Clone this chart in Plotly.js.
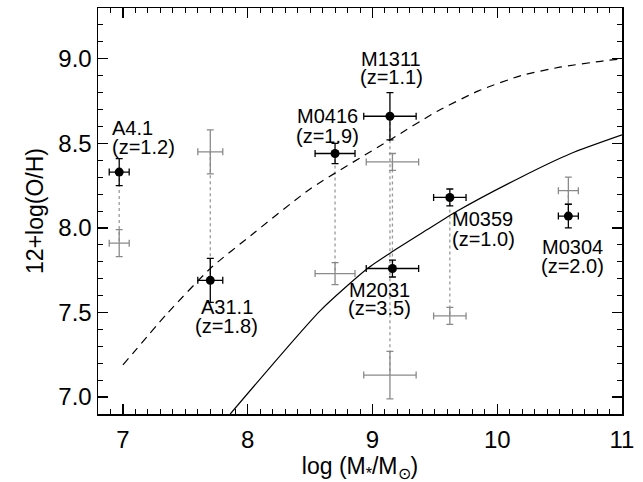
<!DOCTYPE html>
<html><head><meta charset="utf-8">
<script src="https://cdn.plot.ly/plotly-3.0.1.min.js"></script>
<style>html,body{margin:0;padding:0;background:#fff}#chart{width:643px;height:482px}</style>
</head><body><div id="chart"></div>
<script>
// ---- data ----
const galaxyNames = ['A4.1', 'A31.1', 'M0416', 'M1311', 'M2031', 'M0359', 'M0304'];
const redshifts   = ['1.2', '1.8', '1.9', '1.1', '3.5', '1.0', '2.0'];
const logMass     = [6.97, 7.70, 8.70, 9.14, 9.16, 9.62, 10.57];
const logMassErr  = [0.08, 0.10, 0.16, 0.21, 0.21, 0.13, 0.08];
const ohBlack     = [8.33, 7.69, 8.44, 8.66, 7.76, 8.18, 8.07];
const ohBlackErr  = [0.08, 0.13, 0.06, 0.14, 0.05, 0.05, 0.07];
const ohGray      = [7.91, 8.45, 7.73, 7.13, 8.39, 7.48, 8.22];
const ohGrayErr   = [0.08, 0.13, 0.065, 0.14, 0.05, 0.05, 0.08];

const dashedX = [7.00, 7.35, 7.70, 8.05, 8.50, 9.14, 9.52, 9.85, 10.19, 10.50, 10.83, 11.00];
const dashedY = [7.19, 7.49, 7.76, 7.97, 8.23, 8.52, 8.69, 8.81, 8.90, 8.95, 8.985, 9.00];
const solidX  = [7.86, 8.58, 8.96, 9.16, 9.44, 9.68, 10.19, 10.59, 11.00];
const solidY  = [6.90, 7.51, 7.76, 7.86, 7.99, 8.10, 8.30, 8.44, 8.55];

const xTickVals = [7, 8, 9, 10, 11];
const yTickVals = [7.0, 7.5, 8.0, 8.5, 9.0];

// ---- label placement (layout only) ----
const labelLayout = [
  {x: 6.898, anchor: 'left',   yName: 8.588, yZ: 8.476},
  {x: 7.83,  anchor: 'center', yName: 7.530, yZ: 7.418},
  {x: 8.64,  anchor: 'center', yName: 8.661, yZ: 8.545},
  {x: 9.15,  anchor: 'center', yName: 8.997, yZ: 8.890},
  {x: 9.06,  anchor: 'center', yName: 7.635, yZ: 7.524},
  {x: 9.62,  anchor: 'left',   yName: 8.050, yZ: 7.932},
  {x: 10.607,anchor: 'center', yName: 7.889, yZ: 7.776}
];

const FONT = 'Liberation Sans, Arial, Helvetica, sans-serif';

// dotted connectors between black and gray measurements
const connX = [], connY = [];
logMass.forEach((m, i) => { connX.push(m, m, null); connY.push(ohBlack[i], ohGray[i], null); });

const traces = [
  {x: connX, y: connY, mode: 'lines', hoverinfo: 'skip',
   line: {color: '#9a9a9a', width: 1.3, dash: 'dot'}},
  {x: dashedX, y: dashedY, mode: 'lines', line: {color: '#000', width: 1.2, dash: '8px,6px', shape: 'spline', smoothing: 0.6}},
  {x: solidX, y: solidY, mode: 'lines', line: {color: '#000', width: 1.2, shape: 'spline', smoothing: 0.6}},
  {x: logMass, y: ohGray, mode: 'markers',
   marker: {size: 1, color: 'rgba(0,0,0,0)'},
   error_x: {type: 'data', array: logMassErr, color: '#8a8a8a', thickness: 1.3, width: 3.5},
   error_y: {type: 'data', array: ohGrayErr, color: '#8a8a8a', thickness: 1.3, width: 3.5}},
  {x: logMass, y: ohBlack, mode: 'markers',
   marker: {size: 9, color: '#000'},
   error_x: {type: 'data', array: logMassErr, color: '#000', thickness: 1.3, width: 3.5},
   error_y: {type: 'data', array: ohBlackErr, color: '#000', thickness: 1.3, width: 3.5}}
];

const annotations = [];
galaxyNames.forEach((n, i) => {
  const L = labelLayout[i];
  annotations.push({x: L.x, y: L.yName, xref: 'x', yref: 'y', text: n, showarrow: false,
    xanchor: L.anchor, yanchor: 'middle', font: {family: FONT, size: 20, color: '#000'}});
  annotations.push({x: L.x, y: L.yZ, xref: 'x', yref: 'y', text: '(z=' + redshifts[i] + ')', showarrow: false,
    xanchor: L.anchor, yanchor: 'middle', font: {family: FONT, size: 20, color: '#000'}});
});

const axisCommon = {
  showgrid: false, zeroline: false, showline: true, linecolor: '#000', linewidth: 1.5,
  mirror: 'ticks', ticks: 'inside', ticklen: 10, tickwidth: 1.2, tickcolor: '#000',
  tickfont: {family: FONT, size: 24, color: '#000'},
  minor: {ticks: 'inside', ticklen: 5, tickwidth: 1, tickcolor: '#000', dtick: 0.1}
};

const layout = {
  width: 643, height: 482,
  margin: {l: 98, r: 21, t: 8, b: 68},
  paper_bgcolor: '#fff', plot_bgcolor: '#fff',
  showlegend: false,
  font: {family: FONT, color: '#000'},
  xaxis: Object.assign({}, axisCommon, {
    range: [6.8, 11.0], tickvals: xTickVals, ticktext: xTickVals.map(String),
    ticklabelstandoff: 4,
    title: {text: 'log (M<sub>*</sub>/M<sub>⊙</sub>)', font: {family: FONT, size: 23, color: '#000'}, standoff: 2}
  }),
  yaxis: Object.assign({}, axisCommon, {
    range: [6.9, 9.3], tickvals: yTickVals, ticktext: yTickVals.map(v => v.toFixed(1)),
    title: {text: '12+log(O/H)', font: {family: FONT, size: 23, color: '#000'}, standoff: 8}
  }),
  annotations: annotations
};

Plotly.newPlot('chart', traces, layout, {displayModeBar: false, staticPlot: true});
</script>
</body></html>
